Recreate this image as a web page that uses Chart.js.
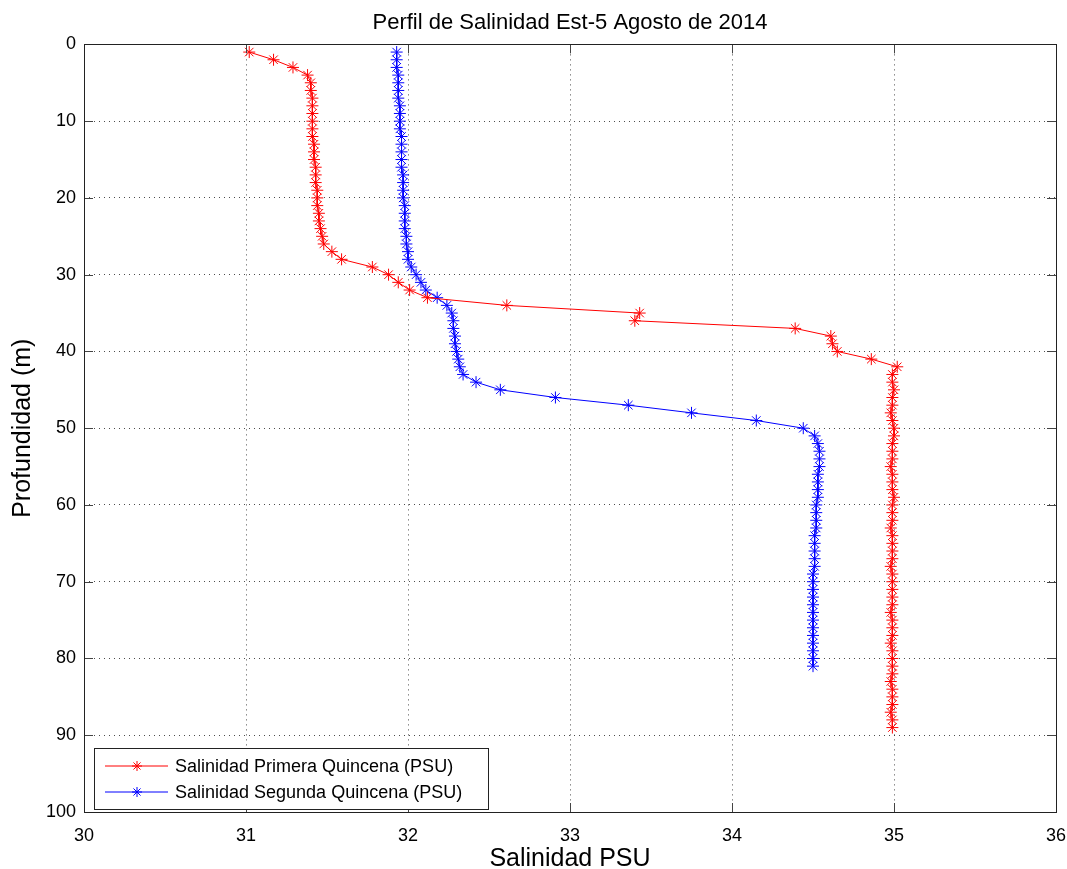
<!DOCTYPE html>
<html lang="es">
<head>
  <meta charset="UTF-8">
  <title>Perfil de Salinidad</title>
  <script src="https://cdn.jsdelivr.net/npm/chart.js"></script>
  <style>
    body { margin: 0; background: #fff; }
    #wrap { width: 1067px; height: 869px; position: relative; }
  </style>
</head>
<body>
  <div id="wrap">
    <canvas id="perfil"></canvas>
  </div>

  <script>
    // profundidad (m) y salinidad (PSU)
    const profPrimera = [
      1, 2, 3, 4, 5, 6, 7, 8, 9, 10,
      11, 12, 13, 14, 15, 16, 17, 18, 19, 20,
      21, 22, 23, 24, 25, 26, 27, 28, 29, 30,
      31, 32, 33, 34, 35, 36, 37, 38, 39, 40,
      41, 42, 43, 44, 45, 46, 47, 48, 49, 50,
      51, 52, 53, 54, 55, 56, 57, 58, 59, 60,
      61, 62, 63, 64, 65, 66, 67, 68, 69, 70,
      71, 72, 73, 74, 75, 76, 77, 78, 79, 80,
      81, 82, 83, 84, 85, 86, 87, 88, 89
    ];
    const salPrimera = [
      31.02, 31.17, 31.29, 31.38, 31.40, 31.40, 31.41, 31.41, 31.41, 31.41,
      31.41, 31.41, 31.42, 31.42, 31.42, 31.43, 31.43, 31.43, 31.44, 31.44,
      31.44, 31.45, 31.45, 31.46, 31.47, 31.48, 31.53, 31.59, 31.78, 31.88,
      31.94, 32.01, 32.12, 32.61, 33.43, 33.40, 34.39, 34.61, 34.62, 34.65,
      34.86, 35.02, 34.99, 34.99, 35.00, 34.99, 34.99, 34.98, 34.99, 35.00,
      35.00, 34.99, 34.99, 34.99, 34.98, 34.99, 34.99, 34.99, 35.00, 34.99,
      34.99, 34.99, 34.98, 34.99, 34.99, 34.99, 34.99, 34.98, 34.99, 34.99,
      34.99, 34.99, 34.99, 34.98, 34.99, 34.99, 34.99, 34.98, 34.99, 34.99,
      34.99, 34.99, 34.98, 34.99, 34.99, 34.99, 34.98, 34.99, 34.99
    ];

    const profSegunda = [
      1, 2, 3, 4, 5, 6, 7, 8, 9, 10,
      11, 12, 13, 14, 15, 16, 17, 18, 19, 20,
      21, 22, 23, 24, 25, 26, 27, 28, 29, 30,
      31, 32, 33, 34, 35, 36, 37, 38, 39, 40,
      41, 42, 43, 44, 45, 46, 47, 48, 49, 50,
      51, 52, 53, 54, 55, 56, 57, 58, 59, 60,
      61, 62, 63, 64, 65, 66, 67, 68, 69, 70,
      71, 72, 73, 74, 75, 76, 77, 78, 79, 80,
      81
    ];
    const salSegunda = [
      31.93, 31.93, 31.93, 31.94, 31.94, 31.94, 31.94, 31.95, 31.95, 31.95,
      31.95, 31.96, 31.96, 31.96, 31.96, 31.96, 31.97, 31.97, 31.97, 31.97,
      31.98, 31.98, 31.98, 31.98, 31.99, 31.99, 32.00, 32.00, 32.02, 32.05,
      32.08, 32.11, 32.18, 32.24, 32.27, 32.28, 32.28, 32.29, 32.29, 32.30,
      32.31, 32.32, 32.34, 32.42, 32.57, 32.91, 33.36, 33.75, 34.15, 34.44,
      34.51, 34.53, 34.54, 34.54, 34.54, 34.53, 34.53, 34.53, 34.53, 34.52,
      34.52, 34.52, 34.52, 34.51, 34.51, 34.51, 34.51, 34.51, 34.50, 34.50,
      34.50, 34.50, 34.50, 34.50, 34.50, 34.50, 34.50, 34.50, 34.50, 34.50,
      34.50
    ];

    const xTicks = [30, 31, 32, 33, 34, 35, 36];
    const yTicks = [0, 10, 20, 30, 40, 50, 60, 70, 80, 90, 100];

    const FONT = "Arial, 'Liberation Sans', Helvetica, sans-serif";

    function toPoints(sal, prof) {
      return sal.map((s, i) => ({ x: s, y: prof[i] }));
    }

    // caja, marcas interiores y leyenda estilo matlab
    const matlabBox = {
      id: 'matlabBox',
      afterDraw(chart) {
        const ctx = chart.ctx;
        const a = chart.chartArea;
        const xs = chart.scales.x, ys = chart.scales.y;
        const tick = 9;
        ctx.save();
        ctx.strokeStyle = '#444';
        ctx.lineWidth = 1;
        ctx.beginPath();
        xTicks.forEach(v => {
          const px = Math.round(xs.getPixelForValue(v)) + 0.5;
          ctx.moveTo(px, a.bottom); ctx.lineTo(px, a.bottom - tick);
          ctx.moveTo(px, a.top); ctx.lineTo(px, a.top + tick);
        });
        yTicks.forEach(v => {
          const py = Math.round(ys.getPixelForValue(v)) + 0.5;
          ctx.moveTo(a.left, py); ctx.lineTo(a.left + tick, py);
          ctx.moveTo(a.right, py); ctx.lineTo(a.right - tick, py);
        });
        ctx.stroke();
        ctx.strokeStyle = '#222';
        ctx.strokeRect(Math.round(a.left) + 0.5, Math.round(a.top) + 0.5,
                       Math.round(a.right - a.left), Math.round(a.bottom - a.top));

        // leyenda
        const bx = a.left + 10, by = a.bottom - 64, bw = 394, bh = 61;
        ctx.fillStyle = '#fff';
        ctx.fillRect(bx, by, bw, bh);
        ctx.strokeStyle = '#222';
        ctx.strokeRect(Math.round(bx) + 0.5, Math.round(by) + 0.5, bw, bh);
        ctx.font = '18px ' + FONT;
        ctx.textBaseline = 'middle';
        chart.data.datasets.forEach((ds, i) => {
          const ry = by + 18 + i * 26;
          ctx.strokeStyle = ds.borderColor;
          ctx.beginPath();
          ctx.moveTo(bx + 11, ry); ctx.lineTo(bx + 74, ry);
          ctx.stroke();
          Chart.helpers.drawPoint(ctx, {
            pointStyle: 'star', radius: 5, rotation: 0, borderWidth: 1
          }, bx + 43, ry);
          ctx.fillStyle = '#000';
          ctx.fillText(ds.label, bx + 81, ry + 1);
        });
        ctx.restore();
      }
    };

    const ctx = document.getElementById('perfil').getContext('2d');
    new Chart(ctx, {
      type: 'line',
      data: {
        datasets: [
          {
            label: 'Salinidad Primera Quincena (PSU)',
            data: toPoints(salPrimera, profPrimera),
            borderColor: '#ff0000',
            backgroundColor: '#ff0000',
            borderWidth: 1,
            pointStyle: 'star',
            pointRadius: 6,
            pointBorderWidth: 1,
            tension: 0
          },
          {
            label: 'Salinidad Segunda Quincena (PSU)',
            data: toPoints(salSegunda, profSegunda),
            borderColor: '#0000ff',
            backgroundColor: '#0000ff',
            borderWidth: 1,
            pointStyle: 'star',
            pointRadius: 6,
            pointBorderWidth: 1,
            tension: 0
          }
        ]
      },
      options: {
        responsive: true,
        maintainAspectRatio: false,
        animation: false,
        layout: { padding: { right: 11, left: 0, top: 0, bottom: 0 } },
        plugins: {
          legend: { display: false },
          tooltip: { enabled: false },
          title: {
            display: true,
            fullSize: false,
            text: 'Perfil de Salinidad Est-5 Agosto de 2014',
            color: '#000',
            font: { family: FONT, size: 22, weight: 'normal' },
            padding: { top: 10, bottom: 8 }
          }
        },
        scales: {
          x: {
            type: 'linear',
            min: 30,
            max: 36,
            afterBuildTicks: s => { s.ticks = xTicks.map(v => ({ value: v })); },
            afterFit: s => { s.height = 57; s.paddingRight = 0; s.paddingLeft = 0; },
            ticks: {
              color: '#000',
              padding: 13,
              font: { family: FONT, size: 18 }
            },
            grid: { color: 'rgba(0,0,0,0.7)', drawTicks: false, lineWidth: 1 },
            border: { display: false, dash: [1, 4] },
            title: {
              display: true,
              text: 'Salinidad PSU',
              color: '#000',
              font: { family: FONT, size: 25 },
              padding: { top: 0, bottom: -5 }
            }
          },
          y: {
            type: 'linear',
            reverse: true,
            min: 0,
            max: 100,
            afterBuildTicks: s => { s.ticks = yTicks.map(v => ({ value: v })); },
            afterFit: s => { s.width = 84; s.paddingTop = 0; s.paddingBottom = 0; },
            ticks: {
              color: '#000',
              padding: 8,
              font: { family: FONT, size: 18 }
            },
            grid: { color: 'rgba(0,0,0,0.7)', drawTicks: false, lineWidth: 1 },
            border: { display: false, dash: [1, 4] },
            title: {
              display: true,
              text: 'Profundidad (m)',
              color: '#000',
              font: { family: FONT, size: 25 },
              padding: { top: 8, bottom: 0 }
            }
          }
        }
      },
      plugins: [matlabBox]
    });
  </script>
</body>
</html>
